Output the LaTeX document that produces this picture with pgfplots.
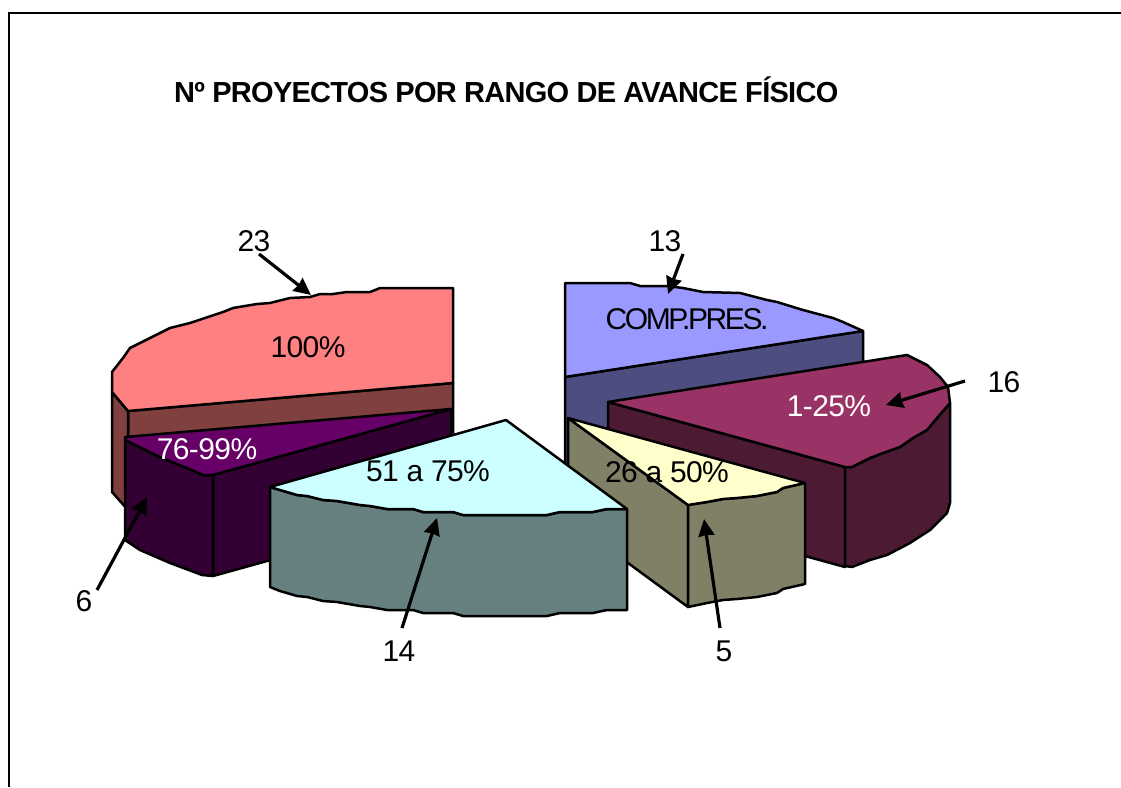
\documentclass[border=0pt]{standalone}
\usepackage{fontspec}
\setmainfont{Liberation Sans}
\usepackage{pgfplots}
\pgfplotsset{compat=1.18}
\usetikzlibrary{arrows.meta}
\definecolor{rtop}{HTML}{FF8080}\definecolor{rside}{HTML}{804040}
\definecolor{btop}{HTML}{9999FF}\definecolor{bside}{HTML}{4D4D80}
\definecolor{mtop}{HTML}{993366}\definecolor{mside}{HTML}{4D1A33}
\definecolor{ytop}{HTML}{FFFFCC}\definecolor{yside}{HTML}{808066}
\definecolor{ttop}{HTML}{CCFFFF}\definecolor{tside}{HTML}{668080}
\definecolor{ptop}{HTML}{660066}\definecolor{pside}{HTML}{330033}
\tikzset{
  face/.style={draw=black,line width=2.5pt,line join=round,fill=#1},
  lead/.style={draw=black,line width=3.2pt,-{Stealth[length=17pt,width=16pt,inset=1pt]}},
  lab/.style={font=\fontsize{30}{32}\selectfont\addfontfeatures{LetterSpace=-2},inner sep=0pt,anchor=center}
}
\begin{document}
\begin{tikzpicture}[x=1pt,y=1pt]
\useasboundingbox (0,0) rectangle (1121,787);
\begin{axis}[at={(0,0)},anchor=south west,scale only axis,width=1121pt,height=787pt,
  xmin=0,xmax=1121,ymin=0,ymax=787,y dir=reverse,hide axis,clip=false]
% frame
\addplot[black,line width=1.5pt] coordinates {(9,787)(9,13)(1121,13)};
% blue slice
\addplot[face=bside] coordinates {(565,377)(863,331)(863,432)(565,478)} -- cycle;
\addplot[face=btop] coordinates {(565,283)(630,283)(640,286)(667,286)(683,288)(703,292)(740,293)(767,300)(777,302)(803,310)(833,318)(843,322)(863,331)(565,377)} -- cycle;
% red slice
\addplot[face=rside] coordinates {(128,411)(453,383)(453,500)(128,510)} -- cycle;
\addplot[face=rside] coordinates {(112,392)(128,411)(128,510)(112,492)} -- cycle;
\addplot[face=rtop] coordinates {(453,288)(380,288)(370,292)(347,292)(333,294)(320,294)(310,297)(290,298)(270,303)(257,304)(233,308)(223,312)(190,323)(170,328)(150,338)(130,348)(123,358)(112,372)(112,392)(128,411)(453,383)} -- cycle;
% maroon slice
\addplot[face=mside] coordinates {(608,402)(845,467)(845,567)(608,502)} -- cycle;
\addplot[face=mside] coordinates {(845,467)(852,467)(870,458)(883,453)(900,447)(913,438)(927,430)(937,418)(950,403)(950,503)(947,513)(930,530)(910,543)(887,555)(870,560)(852,567)(845,566)} -- cycle;
\addplot[face=mtop] coordinates {(608,402)(907,355)(927,365)(940,377)(948,387)(950,403)(937,418)(927,430)(913,438)(900,447)(883,453)(870,458)(852,467)(845,467)} -- cycle;
% purple slice
\addplot[face=pside] coordinates {(213,475)(451,409)(451,510)(213,576)} -- cycle;
\addplot[face=pside] coordinates {(125,440)(162,458)(187,468)(203,475)(213,475)(213,576)(202,575)(170,563)(140,550)(125,540)} -- cycle;
\addplot[face=ptop] coordinates {(451,409)(125,437)(125,440)(162,458)(187,468)(203,475)(213,475)} -- cycle;
% yellow slice
\addplot[face=yside] coordinates {(568,418)(688,505)(688,607)(568,519)} -- cycle;
\addplot[face=yside] coordinates {(688,505)(707,502)(723,499)(737,498)(757,496)(777,492)(783,488)(805,483)(805,584)(783,589)(777,593)(757,597)(737,599)(723,600)(707,603)(688,607)} -- cycle;
\addplot[face=ytop] coordinates {(568,418)(805,483)(783,488)(777,492)(757,496)(737,498)(723,499)(707,502)(688,505)} -- cycle;
% teal slice
\addplot[face=tside] coordinates {(270,487)(280,490)(297,495)(307,496)(323,500)(337,501)(360,505)(370,506)(387,509)(413,509)(423,512)(453,512)(463,515)(547,515)(560,512)(593,512)(607,509)(627,509)(627,610)(607,610)(593,613)(560,613)(547,616)(463,616)(453,613)(423,613)(413,610)(387,610)(370,607)(360,606)(337,602)(323,601)(307,597)(297,596)(280,591)(270,587)} -- cycle;
\addplot[face=ttop] coordinates {(506,420)(627,509)(607,509)(593,512)(560,512)(547,515)(463,515)(453,512)(423,512)(413,509)(387,509)(370,506)(360,505)(337,501)(323,500)(307,496)(297,495)(280,490)(270,487)} -- cycle;
% leader lines
\addplot[lead] coordinates {(259,254)(311,295)};
\addplot[lead] coordinates {(683,254)(668,294)};
\addplot[lead] coordinates {(965,381)(886,405)};
\addplot[lead] coordinates {(720,628)(704,519)};
\addplot[lead] coordinates {(402,628)(437,518)};
\addplot[lead] coordinates {(97,590)(147,497)};
% labels
\node[lab,anchor=west,font=\fontsize{29}{32}\selectfont\bfseries\addfontfeatures{LetterSpace=-2.5}] at (axis cs:174,90) {Nº PROYECTOS POR RANGO DE AVANCE FÍSICO};
\node[lab] at (axis cs:308,347) {100\%};
\node[lab,white] at (axis cs:207,449) {76-99\%};
\node[lab] at (axis cs:428,471) {51 a 75\%};
\node[lab] at (axis cs:667,472) {26 a 50\%};
\node[lab,white] at (axis cs:829,406) {1-25\%};
\node[lab,font=\fontsize{30}{32}\selectfont\addfontfeatures{LetterSpace=-8}] at (axis cs:687,319) {COMP.PRES.};
\node[lab] at (axis cs:254,241) {23};
\node[lab] at (axis cs:665,241) {13};
\node[lab] at (axis cs:1004,382) {16};
\node[lab] at (axis cs:724,651) {5};
\node[lab] at (axis cs:399,651) {14};
\node[lab] at (axis cs:84,601) {6};
\end{axis}
\end{tikzpicture}
\end{document}
